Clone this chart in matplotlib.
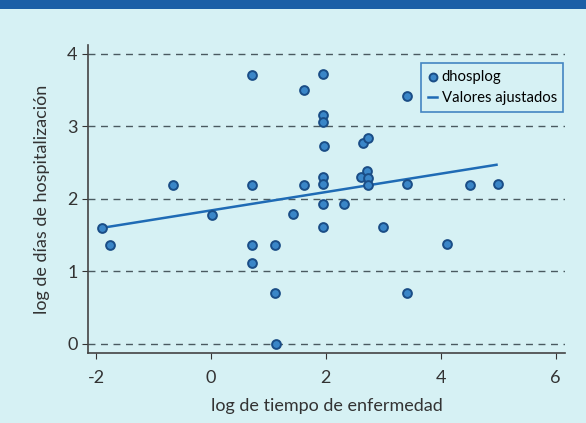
import numpy as np
import matplotlib
matplotlib.use("Agg")
import matplotlib.pyplot as plt
from matplotlib.patches import Rectangle

# log de tiempo de enfermedad vs log de dias de hospitalizacion
log_tiempo = [-1.90, -1.76, -0.66, 0.02, 0.71, 0.71, 0.71, 0.71, 1.11, 1.11,
              1.13, 1.62, 1.62, 1.43, 1.95, 1.95, 1.95, 1.96, 1.95, 1.95,
              1.95, 1.95, 2.31, 2.61, 2.64, 2.73, 2.71, 2.73, 2.73, 3.00,
              3.41, 3.41, 3.41, 4.10, 4.50, 4.99]
dhosplog = [1.60, 1.37, 2.19, 1.78, 3.71, 2.19, 1.37, 1.12, 1.37, 0.70,
            0.00, 3.50, 2.19, 1.79, 3.72, 3.16, 3.06, 2.73, 2.30, 2.21,
            1.93, 1.61, 1.93, 2.30, 2.77, 2.84, 2.39, 2.29, 2.19, 1.61,
            3.42, 2.21, 0.70, 1.38, 2.19, 2.21]

# valores ajustados (recta de regresion, extremos)
ajuste_x = [-1.90, 4.97]
ajuste_y = [1.60, 2.47]

bg = '#d6f1f4'
azul = '#1f6bb5'

plt.rcParams['font.family'] = ['Lato', 'DejaVu Sans']
plt.rcParams['axes.unicode_minus'] = False

fig = plt.figure(figsize=(5.86, 4.23), dpi=100)
fig.patch.set_facecolor(bg)
fig.patches.append(Rectangle((0, 0.978), 1, 0.022, transform=fig.transFigure,
                             facecolor='#1b5fa6', edgecolor='none'))

ax = fig.add_axes([0.150, 0.1655, 0.814, 0.728])
ax.set_facecolor(bg)

for yv in [0, 1, 2, 3, 4]:
    ax.axhline(yv, color='#4a5a60', lw=1, ls=(0, (5, 4)), zorder=1)

ax.plot(ajuste_x, ajuste_y, color=azul, lw=1.8, zorder=2,
        label='Valores ajustados')
ax.scatter(log_tiempo, dhosplog, s=40, facecolor='#3a86c8',
           edgecolor='#1a4d86', linewidth=1.4, zorder=3, label='dhosplog')

ax.set_xlim(-2.14, 6.16)
ax.set_ylim(-0.124, 4.12)
ax.set_xticks([-2, 0, 2, 4, 6])
ax.set_yticks([0, 1, 2, 3, 4])
ax.tick_params(axis='both', labelsize=13, colors='#333333', length=4)
ax.tick_params(axis='x', pad=8)

for s in ['top', 'right']:
    ax.spines[s].set_visible(False)
for s in ['left', 'bottom']:
    ax.spines[s].set_color('#444444')
    ax.spines[s].set_linewidth(1.2)

ax.set_xlabel('log de tiempo de enfermedad', fontsize=13, color='#333333', labelpad=9)
ax.set_ylabel('log de días de hospitalización', fontsize=13, color='#333333', labelpad=12)

handles, labels = ax.get_legend_handles_labels()
leg = ax.legend(handles[::-1], labels[::-1], loc='upper right',
                bbox_to_anchor=(0.997, 0.942), borderaxespad=0,
                fontsize=10.7, frameon=True, fancybox=False,
                handlelength=0.6, handletextpad=0.3,
                borderpad=0.45, labelspacing=0.5, markerscale=0.9)
leg.get_frame().set_edgecolor(azul)
leg.get_frame().set_facecolor(bg)
leg.get_frame().set_linewidth(1.2)

fig.savefig('out.png', dpi=100, facecolor=fig.get_facecolor())
